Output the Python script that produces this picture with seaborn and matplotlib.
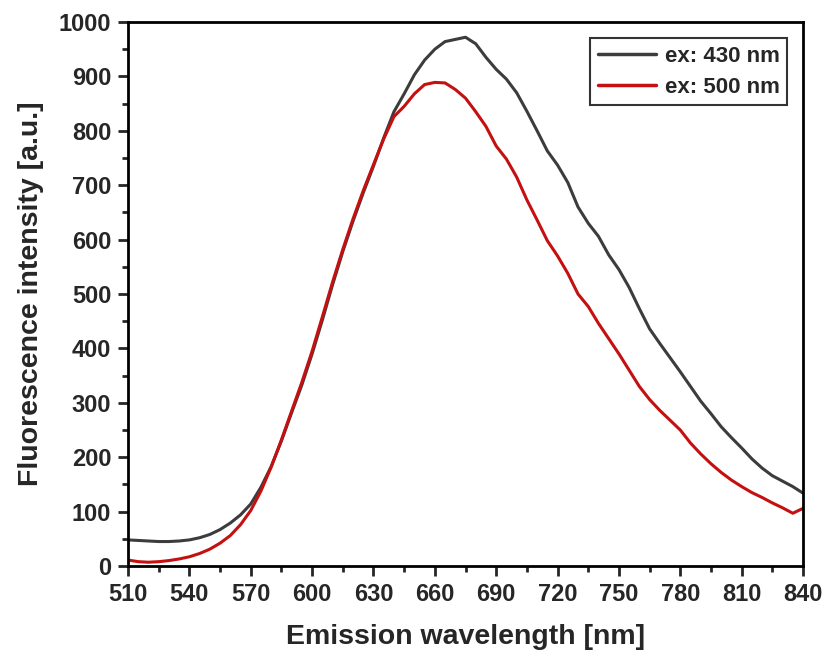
import numpy as np
import pandas as pd
import matplotlib
matplotlib.use("Agg")
import matplotlib.pyplot as plt
from matplotlib.ticker import MultipleLocator
import seaborn as sns

# Emission wavelengths [nm]
wavelength = list(range(510, 845, 5))

# Fluorescence intensity [a.u.] for excitation at 430 nm
ex430 = [48, 47, 46, 45, 45, 46, 48, 52, 58, 67,
         79, 94, 114, 145, 183, 230, 282, 333, 390, 452,
         517, 578, 634, 686, 735, 787, 835, 868, 903, 930,
         950, 964, 968, 972, 960, 935, 913, 895, 870, 836,
         800, 763, 737, 705, 660, 630, 606, 572, 545, 512,
         473, 436, 409, 383, 357, 330, 303, 280, 256, 236,
         217, 197, 180, 166, 156, 146, 134]

# Fluorescence intensity [a.u.] for excitation at 500 nm
ex500 = [11, 8, 7, 8, 10, 13, 17, 23, 31, 42,
         56, 76, 102, 138, 182, 232, 285, 338, 395, 458,
         522, 582, 638, 690, 738, 785, 826, 845, 868, 885,
         889, 888, 876, 860, 835, 808, 772, 748, 715, 673,
         636, 598, 570, 538, 500, 477, 446, 418, 390, 360,
         330, 306, 286, 268, 250, 226, 206, 188, 172, 158,
         146, 135, 126, 116, 107, 97, 106]

labels = ["ex: 430 nm", "ex: 500 nm"]
colors = ["#3c3c3c", "#c41010"]

df = pd.concat([
    pd.DataFrame({"wl": wavelength, "I": ex430, "series": labels[0]}),
    pd.DataFrame({"wl": wavelength, "I": ex500, "series": labels[1]}),
])

sns.set_style("white")
plt.rcParams["font.family"] = ["Liberation Sans", "DejaVu Sans"]
plt.rcParams["font.weight"] = "bold"

fig = plt.figure(figsize=(8.27, 6.53), dpi=100)
ax = fig.add_axes([0.1548, 0.1332, 0.8162, 0.8331])

sns.lineplot(data=df, x="wl", y="I", hue="series", palette=colors,
             linewidth=2.2, ax=ax, legend=True)

ax.set_xlim(510, 840)
ax.set_ylim(0, 1000)
ax.xaxis.set_major_locator(MultipleLocator(30))
ax.xaxis.set_minor_locator(MultipleLocator(15))
ax.yaxis.set_major_locator(MultipleLocator(100))
ax.yaxis.set_minor_locator(MultipleLocator(50))

for s in ax.spines.values():
    s.set_visible(True)
    s.set_linewidth(2.0)
    s.set_color("black")

ax.tick_params(which="major", direction="out", length=7.5, width=2,
               labelsize=17, bottom=True, left=True, top=False, right=False,
               pad=4.5)
ax.tick_params(which="minor", direction="out", length=4.3, width=2,
               bottom=True, left=True, top=False, right=False)
for lab in ax.get_xticklabels() + ax.get_yticklabels():
    lab.set_fontweight("bold")

ax.set_xlabel("Emission wavelength [nm]", fontsize=20.5, fontweight="bold",
              labelpad=13)
ax.set_ylabel("Fluorescence intensity [a.u.]", fontsize=20.5,
              fontweight="bold", labelpad=11)

leg = ax.legend(loc="upper right", bbox_to_anchor=(0.977, 0.971),
                fontsize=16, frameon=True, fancybox=False,
                handlelength=2.6, borderpad=0.35, labelspacing=0.45,
                handletextpad=0.4, borderaxespad=0)
leg.get_frame().set_edgecolor("black")
leg.get_frame().set_linewidth(1.5)
for t in leg.get_texts():
    t.set_fontweight("bold")
for h in leg.get_lines():
    h.set_linewidth(2.5)

fig.savefig("out.png", dpi=100, facecolor="white")
